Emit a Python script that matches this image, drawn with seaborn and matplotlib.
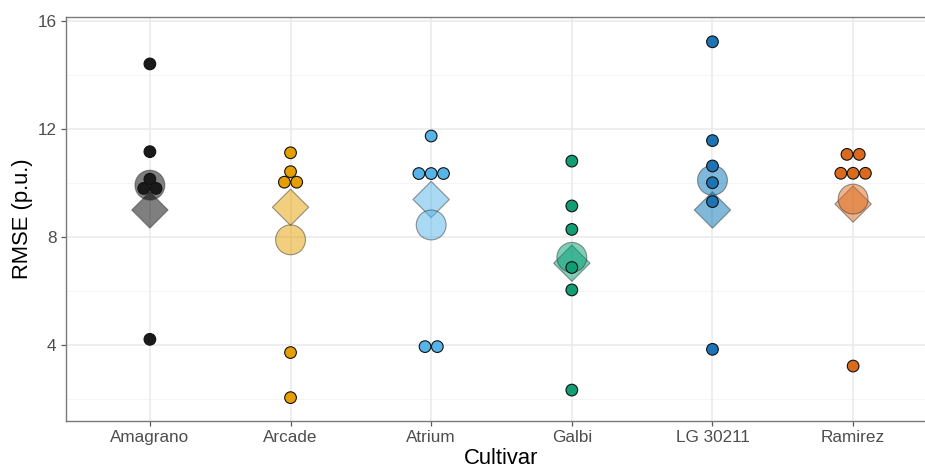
import numpy as np
import pandas as pd
import matplotlib
matplotlib.use("Agg")
import matplotlib.pyplot as plt
from matplotlib.colors import to_rgba
import seaborn as sns

# Cultivars and per-run RMSE values (p.u.)
cultivars = ["Amagrano", "Arcade", "Atrium", "Galbi", "LG 30211", "Ramirez"]
rmse_amagrano = [14.41, 11.16, 10.14, 9.80, 9.80, 4.21]
rmse_arcade = [11.12, 10.42, 10.03, 10.03, 3.72, 2.05]
rmse_atrium = [11.74, 10.35, 10.35, 10.35, 3.94, 3.94]
rmse_galbi = [10.81, 9.15, 8.28, 6.87, 6.04, 2.33]
rmse_lg30211 = [15.23, 11.57, 10.63, 10.01, 9.31, 3.84]
rmse_ramirez = [11.06, 11.06, 10.36, 10.36, 10.36, 3.22]

# Reference RMSE per cultivar (diamond markers)
rmse_reference = [9.00, 9.10, 9.39, 7.03, 9.00, 9.22]

colors = ["#1a1a1a", "#E69F00", "#56B4E9", "#119E75", "#1C74B4", "#DC6A1C"]
mean_colors = ["#000000", "#E69F00", "#56B4E9", "#009E73", "#0072B2", "#DC6A1C"]

y_ticks = [4, 8, 12, 16]
y_minor = [2, 6, 10, 14]

runs = [rmse_amagrano, rmse_arcade, rmse_atrium, rmse_galbi, rmse_lg30211, rmse_ramirez]
df = pd.DataFrame({
    "Cultivar": np.repeat(cultivars, [len(r) for r in runs]),
    "RMSE": np.concatenate(runs),
})
df["pos"] = df["Cultivar"].map({c: i for i, c in enumerate(cultivars)}).astype(float)

# Centre-stack tied values side by side (dot width in category units)
dot_w = 0.0875
for (c, v), idx in df.groupby(["Cultivar", "RMSE"], sort=False).groups.items():
    n = len(idx)
    df.loc[idx, "pos"] += (np.arange(n) - (n - 1) / 2) * dot_w

means = df.groupby("Cultivar", sort=False)["RMSE"].mean().reset_index()
means["pos"] = np.arange(len(cultivars))
ref_df = pd.DataFrame({"Cultivar": cultivars, "RMSE": rmse_reference,
                       "pos": np.arange(len(cultivars))})

sns.set_theme(style="white")
plt.rcParams["font.family"] = ["Liberation Sans", "DejaVu Sans"]

fig = plt.figure(figsize=(9.25, 4.68), dpi=100)
ax = fig.add_axes([65.5 / 925, 47 / 468, (937.5 - 65.5) / 925, (421 - 17) / 468])

# Grid: major and minor horizontals, one vertical per cultivar
for y in y_minor:
    ax.axhline(y, color="#F2F2F2", lw=0.6, zorder=0)
for y in y_ticks:
    ax.axhline(y, color="#EBEBEB", lw=1.2, zorder=0)
for i in range(len(cultivars)):
    ax.axvline(i, color="#EBEBEB", lw=1.2, zorder=0)

fill_alpha = 0.5
mean_pal = {c: to_rgba(col, fill_alpha) for c, col in zip(cultivars, mean_colors)}
edge_soft = (0.2, 0.2, 0.2, 0.5)

sns.scatterplot(data=ref_df, x="pos", y="RMSE", hue="Cultivar", hue_order=cultivars,
                palette=mean_pal, marker="D", s=18.5 ** 2,
                edgecolor=edge_soft, linewidth=0.8, legend=False, ax=ax, zorder=2)
sns.scatterplot(data=means, x="pos", y="RMSE", hue="Cultivar", hue_order=cultivars,
                palette=mean_pal, marker="o", s=21.5 ** 2,
                edgecolor=edge_soft, linewidth=0.8, legend=False, ax=ax, zorder=3)
sns.scatterplot(data=df, x="pos", y="RMSE", hue="Cultivar", hue_order=cultivars,
                palette=dict(zip(cultivars, colors)), s=8.4 ** 2,
                edgecolor="#111111", linewidth=0.8, legend=False, ax=ax, zorder=4)

ax.set_xlim(-0.6, 5.6)
ax.set_ylim(1.185, 16.148)
ax.set_xticks(range(len(cultivars)))
ax.set_xticklabels(cultivars)
ax.set_yticks(y_ticks)
ax.set_yticklabels([str(v) for v in y_ticks])
ax.grid(False)

for s in ax.spines.values():
    s.set_color("#7A7A7A")
    s.set_linewidth(1.0)

ax.tick_params(axis="both", which="major", length=3.5, width=0.9, color="#5A5A5A",
               labelsize=12.3, labelcolor="#4D4D4D", pad=3, bottom=True, left=True)
ax.set_xlabel("Cultivar", fontsize=15.8, color="black", labelpad=2)
ax.set_ylabel("RMSE (p.u.)", fontsize=15.8, color="black", labelpad=3)

fig.savefig("out.png", dpi=100)
